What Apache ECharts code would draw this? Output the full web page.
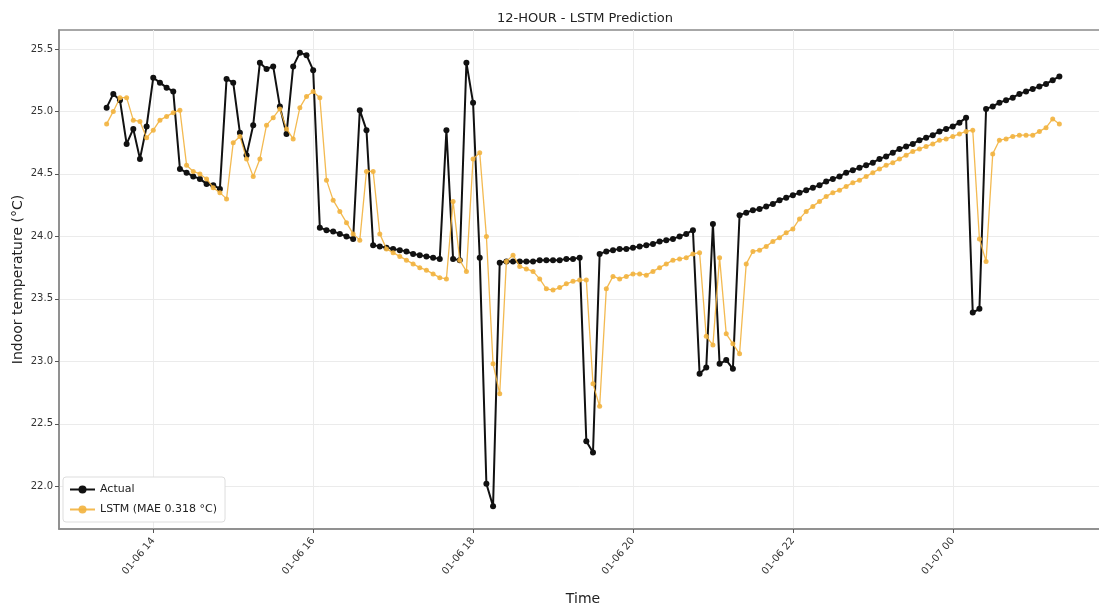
<!DOCTYPE html>
<html>
<head>
<meta charset="utf-8">
<title>12-HOUR - LSTM Prediction</title>
<script src="https://cdn.jsdelivr.net/npm/echarts@6/dist/echarts.min.js"></script>
<style>
  html, body { margin: 0; padding: 0; background: #ffffff; }
  #chart { width: 1099px; height: 608px; }
</style>
</head>
<body>
<div id="chart"></div>
<script>
// Indoor temperature, sampled every 5 minutes from 01-06 13:25 to 01-07 01:20
const START = new Date(2025, 0, 6, 13, 25, 0).getTime();
const STEP_MS = 5 * 60 * 1000;

// Measured indoor temperature (°C)
const actual = [
  25.03, 25.14, 25.09, 24.74, 24.86, 24.62, 24.88, 25.27, 25.23, 25.19,
  25.16, 24.54, 24.51, 24.48, 24.46, 24.42, 24.41, 24.38, 25.26, 25.23,
  24.83, 24.65, 24.89, 25.39, 25.34, 25.36, 25.04, 24.82, 25.36, 25.47,
  25.45, 25.33, 24.07, 24.05, 24.04, 24.02, 24.00, 23.98, 25.01, 24.85,
  23.93, 23.92, 23.91, 23.90, 23.89, 23.88, 23.86, 23.85, 23.84, 23.83,
  23.82, 24.85, 23.82, 23.81, 25.39, 25.07, 23.83, 22.02, 21.84, 23.79,
  23.80, 23.80, 23.80, 23.80, 23.80, 23.81, 23.81, 23.81, 23.81, 23.82,
  23.82, 23.83, 22.36, 22.27, 23.86, 23.88, 23.89, 23.90, 23.90, 23.91,
  23.92, 23.93, 23.94, 23.96, 23.97, 23.98, 24.00, 24.02, 24.05, 22.90,
  22.95, 24.10, 22.98, 23.01, 22.94, 24.17, 24.19, 24.21, 24.22, 24.24,
  24.26, 24.29, 24.31, 24.33, 24.35, 24.37, 24.39, 24.41, 24.44, 24.46,
  24.48, 24.51, 24.53, 24.55, 24.57, 24.59, 24.62, 24.64, 24.67, 24.70,
  24.72, 24.74, 24.77, 24.79, 24.81, 24.84, 24.86, 24.88, 24.91, 24.95,
  23.39, 23.42, 25.02, 25.04, 25.07, 25.09, 25.11, 25.14, 25.16, 25.18,
  25.20, 25.22, 25.25, 25.28
];

// LSTM model prediction (°C)
const lstm = [
  24.90, 25.00, 25.11, 25.11, 24.93, 24.92, 24.79, 24.85, 24.93, 24.96,
  24.99, 25.01, 24.57, 24.52, 24.50, 24.46, 24.39, 24.35, 24.30, 24.75,
  24.80, 24.62, 24.48, 24.62, 24.89, 24.95, 25.02, 24.86, 24.78, 25.03,
  25.12, 25.16, 25.11, 24.45, 24.29, 24.20, 24.11, 24.02, 23.97, 24.52,
  24.52, 24.02, 23.90, 23.87, 23.84, 23.81, 23.78, 23.75, 23.73, 23.70,
  23.67, 23.66, 24.28, 23.81, 23.72, 24.62, 24.67, 24.00, 22.98, 22.74,
  23.80, 23.85, 23.76, 23.74, 23.72, 23.66, 23.58, 23.57, 23.59, 23.62,
  23.64, 23.65, 23.65, 22.82, 22.64, 23.58, 23.68, 23.66, 23.68, 23.70,
  23.70, 23.69, 23.72, 23.75, 23.78, 23.81, 23.82, 23.83, 23.86, 23.87,
  23.20, 23.13, 23.83, 23.22, 23.14, 23.06, 23.78, 23.88, 23.89, 23.92,
  23.96, 23.99, 24.03, 24.06, 24.14, 24.20, 24.24, 24.28, 24.32, 24.35,
  24.37, 24.40, 24.43, 24.45, 24.48, 24.51, 24.54, 24.57, 24.59, 24.62,
  24.65, 24.68, 24.70, 24.72, 24.74, 24.77, 24.78, 24.80, 24.82, 24.84,
  24.85, 23.98, 23.80, 24.66, 24.77, 24.78, 24.80, 24.81, 24.81, 24.81,
  24.84, 24.87, 24.94, 24.90
];

const seriesNames = ['Actual', 'LSTM (MAE 0.318 °C)'];
const titleText = '12-HOUR - LSTM Prediction';
const xAxisTitle = 'Time';
const yAxisTitle = 'Indoor temperature (°C)';

// Tick positions: every two hours on the time axis, every 0.5 °C on the value axis
const xTickTimes = [
  new Date(2025, 0, 6, 14).getTime(),
  new Date(2025, 0, 6, 16).getTime(),
  new Date(2025, 0, 6, 18).getTime(),
  new Date(2025, 0, 6, 20).getTime(),
  new Date(2025, 0, 6, 22).getTime(),
  new Date(2025, 0, 7, 0).getTime()
];
const yTicks = [22.0, 22.5, 23.0, 23.5, 24.0, 24.5, 25.0, 25.5];

// Axis extents (5% padding around the data)
const X_MIN = new Date(2025, 0, 6, 12, 49, 15).getTime();
const X_MAX = new Date(2025, 0, 7, 1, 55, 45).getTime();
const Y_MIN = 21.6585;
const Y_MAX = 25.6515;

const times = actual.map((_, i) => START + i * STEP_MS);
const pair = (vals) => vals.map((v, i) => [times[i], v]);
const pad2 = (n) => String(n).padStart(2, '0');

const FONT = "'DejaVu Sans', sans-serif";

const chart = echarts.init(document.getElementById('chart'), null, { renderer: 'canvas' });
chart.setOption({
  animation: false,
  backgroundColor: '#ffffff',
  textStyle: { fontFamily: FONT },
  title: {
    text: titleText,
    left: 580,
    top: 7,
    textAlign: 'center',
    textStyle: { fontFamily: FONT, fontSize: 13, fontWeight: 'normal', color: '#222' }
  },
  grid: {
    left: 59, right: -8, top: 30, bottom: 79,
    outerBoundsMode: 'none',
    containLabel: false,
    show: true, borderColor: '#8a8a8a', borderWidth: 1.5, backgroundColor: 'transparent'
  },
  legend: {
    orient: 'vertical',
    left: 63, top: 477,
    padding: [7, 8, 7, 6],
    itemGap: 9,
    itemWidth: 25, itemHeight: 10,
    backgroundColor: '#ffffff',
    borderColor: '#dddddd', borderWidth: 1, borderRadius: 3,
    textStyle: { fontFamily: FONT, fontSize: 11, color: '#222' },
    data: seriesNames
  },
  xAxis: {
    type: 'value',
    min: X_MIN, max: X_MAX,
    name: xAxisTitle,
    nameLocation: 'middle',
    nameGap: 63,
    nameMoveOverlap: false,
    nameTextStyle: { fontFamily: FONT, fontSize: 14, color: '#222' },
    axisLine: { show: true, lineStyle: { color: '#8a8a8a', width: 1.5 } },
    axisTick: { show: true, inside: false, length: 4, lineStyle: { color: '#555' }, customValues: xTickTimes },
    axisLabel: {
      rotate: 50,
      margin: 10,
      customValues: xTickTimes,
      fontFamily: FONT, fontSize: 10, color: '#333',
      formatter: (v) => {
        const d = new Date(v);
        return pad2(d.getMonth() + 1) + '-' + pad2(d.getDate()) + ' ' + pad2(d.getHours());
      }
    },
    splitLine: { show: true, lineStyle: { color: '#ebebeb', width: 1 } }
  },
  yAxis: {
    type: 'value',
    min: Y_MIN, max: Y_MAX,
    name: yAxisTitle,
    nameLocation: 'middle',
    nameGap: 34,
    nameMoveOverlap: false,
    nameTextStyle: { fontFamily: FONT, fontSize: 14, color: '#222' },
    axisLine: { show: true, lineStyle: { color: '#8a8a8a', width: 1.5 } },
    axisTick: { show: true, inside: false, length: 4, lineStyle: { color: '#555' }, customValues: yTicks },
    axisLabel: {
      margin: 6,
      customValues: yTicks,
      fontFamily: FONT, fontSize: 10, color: '#333',
      formatter: (v) => Number(v).toFixed(1)
    },
    splitLine: { show: true, lineStyle: { color: '#ebebeb', width: 1 } }
  },
  series: [
    {
      name: seriesNames[0],
      type: 'line',
      data: pair(actual),
      symbol: 'circle',
      symbolSize: 6,
      showSymbol: true,
      showAllSymbol: true,
      color: '#111111',
      lineStyle: { color: '#111111', width: 2 },
      itemStyle: { color: '#111111' },
      z: 2
    },
    {
      name: seriesNames[1],
      type: 'line',
      data: pair(lstm),
      symbol: 'circle',
      symbolSize: 5,
      showSymbol: true,
      showAllSymbol: true,
      color: '#f2b23e',
      lineStyle: { color: '#f2b23e', width: 1.3, opacity: 0.9 },
      itemStyle: { color: '#f2b23e', opacity: 0.9 },
      z: 3
    }
  ]
});
</script>
</body>
</html>
